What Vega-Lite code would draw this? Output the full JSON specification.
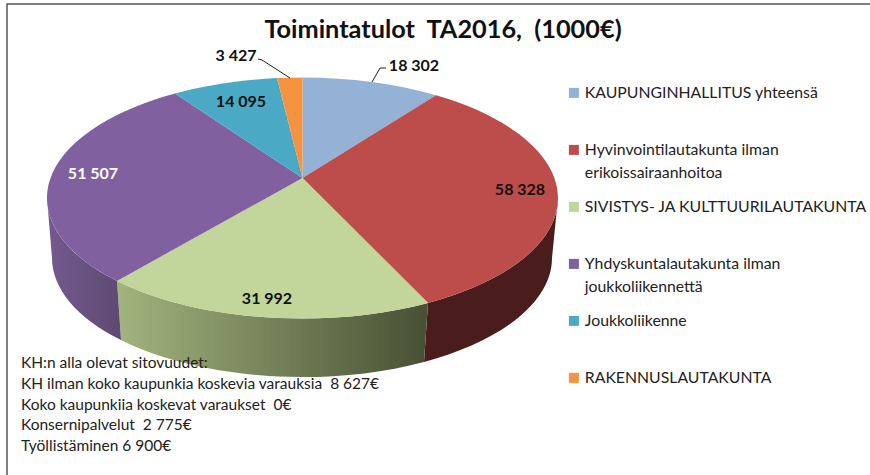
{
"$schema":"https://vega.github.io/schema/vega-lite/v6.json",
"width":870,"height":475,"autosize":"none","padding":0,"background":"white",
"title":{"text":"Toimintatulot\u00a0\u00a0TA2016,\u00a0\u00a0(1000€)","font":"Lato","fontSize":25.3,"fontWeight":"bold","color":"#111","anchor":"middle","dx":8,"offset":-43},
"config":{"view":{"stroke":null}},
"data":{"values":[
{"id":"KH","category":"KAUPUNGINHALLITUS yhteensä","value":18302,"label":"18 302"},
{"id":"HYV","category":"Hyvinvointilautakunta ilman erikoissairaanhoitoa","value":58328,"label":"58 328"},
{"id":"SIV","category":"SIVISTYS- JA KULTTUURILAUTAKUNTA","value":31992,"label":"31 992"},
{"id":"YHD","category":"Yhdyskuntalautakunta ilman joukkoliikennettä","value":51507,"label":"51 507"},
{"id":"JOU","category":"Joukkoliikenne","value":14095,"label":"14 095"},
{"id":"RAK","category":"RAKENNUSLAUTAKUNTA","value":3427,"label":"3 427"}
]},
"resolve":{"scale":{"x":"independent","y":"independent"}},
"layer":[
{"transform":[{"filter":"datum.value==18302"}],
 "mark":{"type":"point","filled":false,"opacity":1,"size":4,"stroke":"#555","strokeWidth":1.5,"shape":"M-428,237.5L-428,-233.5L435,-233.5"}},
{"transform":[{"filter":"datum.value==58328"}],
 "mark":{"type":"point","filled":true,"opacity":1,"size":4,"fill":"#4a1c1c","shape":"M-7,65.5A255.5,120.5 0 0 0 123,-39.5L117,20.5A250,119 0 0 1 -11,124.4Z"}},
{"transform":[{"filter":"datum.value==31992"}],
 "mark":{"type":"point","filled":true,"opacity":1,"size":4,"fill":{"gradient":"linear","x1":0,"y1":0,"x2":1,"y2":0,"stops":[{"offset":0,"color":"#a3b47e"},{"offset":1,"color":"#475034"}]},"shape":"M-318,43.4A255.5,120.5 0 0 0 -7,65.5L-11,124.4A250,119 0 0 1 -314,102.6Z"}},
{"transform":[{"filter":"datum.value==51507"}],
 "mark":{"type":"point","filled":true,"opacity":1,"size":4,"fill":{"gradient":"linear","x1":0,"y1":0,"x2":1,"y2":0,"stops":[{"offset":0,"color":"#75598f"},{"offset":1,"color":"#5d4a72"}]},"shape":"M-388,-39.5A255.5,120.5 0 0 0 -318,43.4L-314,102.6A250,119 0 0 1 -383,20.5Z"}},
{"mark":{"type":"point","filled":true,"opacity":1,"size":4},
 "encoding":{
  "shape":{"field":"id","type":"nominal","legend":null,"scale":{
   "domain":["KH","HYV","SIV","YHD","JOU","RAK"],
   "range":[
    "M-132.5,-59.5L-132.5,-160A255.5,120.5 0 0 1 1,-142.2Z",
    "M-132.5,-59.5L1,-142.2A255.5,120.5 0 0 1 -7,65.5Z",
    "M-132.5,-59.5L-7,65.5A255.5,120.5 0 0 1 -318,43.4Z",
    "M-132.5,-59.5L-318,43.4A255.5,120.5 0 0 1 -260,-143.9Z",
    "M-132.5,-59.5L-260,-143.9A255.5,120.5 0 0 1 -158,-159.4Z",
    "M-132.5,-59.5L-158,-159.4A255.5,120.5 0 0 1 -132.5,-160Z"]}},
  "color":{"field":"category","type":"nominal","scale":{
   "domain":["KAUPUNGINHALLITUS yhteensä","Hyvinvointilautakunta ilman erikoissairaanhoitoa","SIVISTYS- JA KULTTUURILAUTAKUNTA","Yhdyskuntalautakunta ilman joukkoliikennettä","Joukkoliikenne","RAKENNUSLAUTAKUNTA"],
   "range":["#94b2d6","#bd4d4a","#c2d59a","#80609f","#4aa9c4","#f59340"]},
   "legend":{"title":null,"orient":"none","legendX":566,"legendY":85,"symbolType":"square","symbolSize":100,"symbolOpacity":1,"labelFont":"Lato","labelFontSize":15.8,"labelColor":"#222","labelLimit":320,"labelOffset":3,"rowPadding":17,"gridAlign":"all","labelBaseline":"alphabetic",
    "labelExpr":"indexof(datum.label,' ilman ')>0 ? [slice(datum.label,0,indexof(datum.label,' ilman ')+6), slice(datum.label,indexof(datum.label,' ilman ')+7)] : datum.label",
    "encode":{"labels":{"update":{"dy":{"value":5},"lineHeight":{"value":23}}}}}}
 }},
{"transform":[{"filter":"datum.value==3427"}],
 "mark":{"type":"point","filled":false,"opacity":1,"size":4,"stroke":"#222","strokeWidth":1,"shape":"M-177,-178.5L-173,-177.5L-145,-159.5"}},
{"transform":[{"filter":"datum.value==18302"}],
 "mark":{"type":"point","filled":false,"opacity":1,"size":4,"stroke":"#222","strokeWidth":1,"shape":"M-49,-169.5L-55,-169.5L-63,-155.5"}},
{"mark":{"type":"text","font":"Lato","fontSize":16,"fontWeight":"bold","align":"center","baseline":"middle"},
 "encoding":{
  "text":{"field":"label"},
  "x":{"field":"value","type":"quantitative","axis":null,"scale":{"zero":false,"nice":false,"domain":[3427,14095,18302,31992,51507,58328],"range":[236,241,414,267,93,520]}},
  "y":{"field":"value","type":"quantitative","axis":null,"scale":{"zero":false,"nice":false,"domain":[3427,14095,18302,31992,51507,58328],"range":[56,102,66,299,174,190]}},
  "color":{"condition":{"test":"datum.value==51507","value":"white"},"value":"#111"}
 }},
{"data":{"values":[
 {"line":1,"text":"KH:n alla olevat sitovuudet:"},
 {"line":2,"text":"KH ilman koko kaupunkia koskevia varauksia\u00a0\u00a08 627€"},
 {"line":3,"text":"Koko kaupunkiia koskevat varaukset\u00a0\u00a00€"},
 {"line":4,"text":"Konsernipalvelut\u00a0\u00a02 775€"},
 {"line":5,"text":"Työllistäminen 6 900€"}
 ]},
 "mark":{"type":"text","font":"Lato","fontSize":15.5,"align":"left","baseline":"middle","color":"#222"},
 "encoding":{
  "text":{"field":"text"},
  "x":{"field":"line","type":"quantitative","axis":null,"scale":{"zero":false,"nice":false,"domain":[1,5],"range":[21,21]}},
  "y":{"field":"line","type":"quantitative","axis":null,"scale":{"zero":false,"nice":false,"domain":[1,5],"range":[363,446]}}
 }}
]}
